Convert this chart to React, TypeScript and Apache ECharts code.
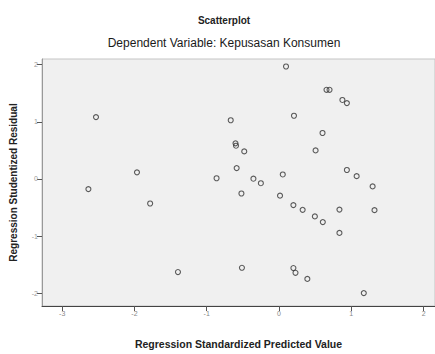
import React, { useEffect, useRef } from "react";
import * as echarts from "echarts";

const chartTitle = "Scatterplot";
const chartSubtitle = "Dependent Variable: Kepusasan Konsumen";
const xAxisName = "Regression Standardized Predicted Value";
const yAxisName = "Regression Studentized Residual";

const xTicks = [-3, -2, -1, 0, 1, 2];
const yTicks = [-2, -1, 0, 1, 2];

const predicted = [
  -2.532, -1.965, -2.637, -1.783, -1.398, -0.668, -0.602, -0.595, -0.481, -0.586,
  -0.864, -0.354, -0.251, -0.52, -0.513, 0.097, 0.657, 0.699, 0.877, 0.939,
  0.207, 0.602, 0.506, 0.052, 0.939, 1.074, 1.295, 0.014, 0.199, 0.327,
  0.496, 0.606, 0.836, 1.321, 0.836, 0.199, 0.228, 0.392, 1.173,
];
const residual = [
  1.083, 0.116, -0.177, -0.429, -1.629, 1.028, 0.624, 0.582, 0.483, 0.191,
  0.013, 0.005, -0.074, -0.254, -1.554, 1.969, 1.561, 1.561, 1.383, 1.328,
  1.107, 0.805, 0.5, 0.079, 0.157, 0.05, -0.13, -0.292, -0.457, -0.54,
  -0.655, -0.754, -0.536, -0.545, -0.944, -1.559, -1.642, -1.749, -1.997,
];

export default function App() {
  const ref = useRef<HTMLDivElement>(null);
  useEffect(() => {
    document.body.style.margin = "0";
    const chart = echarts.init(ref.current!, null, { renderer: "svg" });
    const data = predicted.map((x, i) => [x, residual[i]]);
    const font = "Liberation Sans, Arial, sans-serif";
    chart.setOption({
      animation: false,
      backgroundColor: "#ffffff",
      graphic: [
        {
          type: "text",
          x: 224,
          y: 20,
          style: {
            text: chartTitle,
            textAlign: "center",
            textVerticalAlign: "middle",
            fontFamily: font,
            fontSize: 10,
            fontWeight: "bold",
            fill: "#222",
          },
        },
        {
          type: "text",
          x: 224,
          y: 43,
          style: {
            text: chartSubtitle,
            textAlign: "center",
            textVerticalAlign: "middle",
            fontFamily: font,
            fontSize: 12,
            fill: "#1a1a1a",
          },
        },
      ],
      grid: {
        left: 40,
        top: 59,
        right: 0,
        bottom: 33,
        show: true,
        backgroundColor: "#f0f0f0",
        borderColor: "#c4c4c4",
        borderWidth: 1,
      },
      xAxis: {
        type: "value",
        min: -3.279,
        max: 2.158,
        name: xAxisName,
        nameLocation: "middle",
        nameGap: 32,
        nameTextStyle: {
          fontFamily: font,
          fontSize: 10.5,
          fontWeight: "bold",
          color: "#222",
        },
        axisLine: { show: true, onZero: false, lineStyle: { color: "#444", width: 1 } },
        axisTick: { show: true, length: 5, customValues: xTicks, lineStyle: { color: "#555" } },
        axisLabel: {
          customValues: xTicks,
          fontSize: 7,
          color: "#888",
          margin: 4,
          fontFamily: font,
        },
        splitLine: { show: false },
      },
      yAxis: {
        type: "value",
        min: -2.223,
        max: 2.1,
        name: yAxisName,
        nameLocation: "middle",
        nameGap: 24,
        nameTextStyle: {
          fontFamily: font,
          fontSize: 10,
          fontWeight: "bold",
          color: "#222",
        },
        axisLine: { show: true, onZero: false, lineStyle: { color: "#999", width: 1 } },
        axisTick: { show: true, length: 5, customValues: yTicks, lineStyle: { color: "#555" } },
        axisLabel: {
          customValues: yTicks,
          fontSize: 7,
          color: "#999",
          margin: 4,
          fontFamily: font,
        },
        splitLine: { show: false },
      },
      series: [
        {
          type: "scatter",
          data,
          symbol: "circle",
          symbolSize: 5,
          itemStyle: {
            color: "rgba(0,0,0,0)",
            borderColor: "#333",
            borderWidth: 1.1,
          },
        },
      ],
    });
    return () => chart.dispose();
  }, []);
  return (
    <div
      ref={ref}
      style={{ position: "absolute", left: 0, top: 0, width: 435, height: 354 }}
    />
  );
}
